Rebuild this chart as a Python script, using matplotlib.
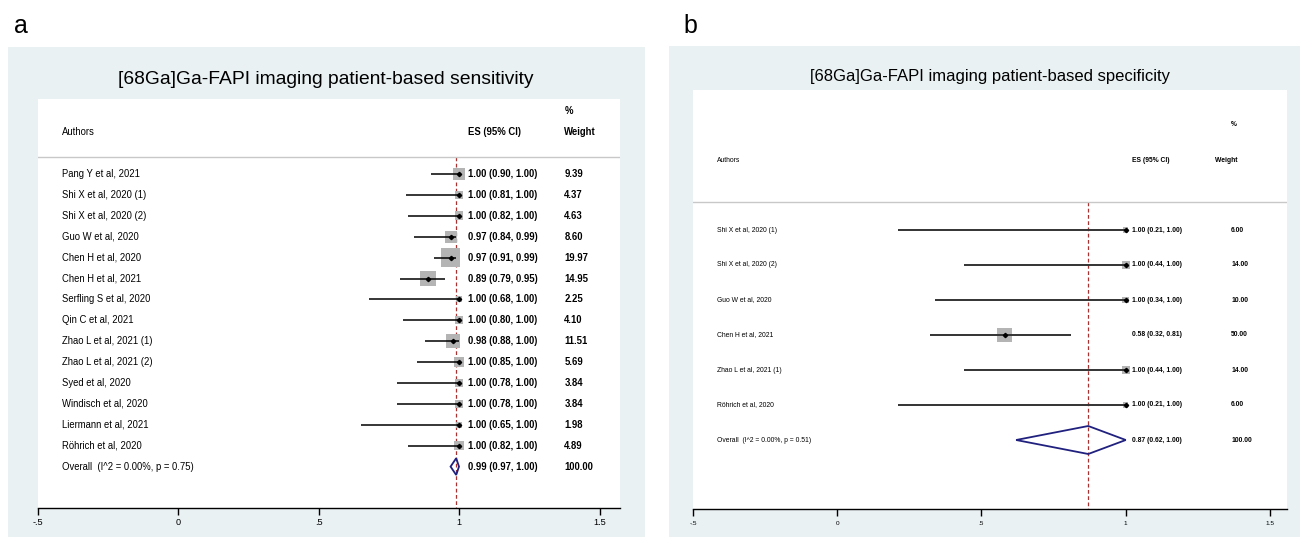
"""Forest plots of [68Ga]Ga-FAPI patient-based sensitivity and specificity."""

import matplotlib

matplotlib.use("Agg")
import matplotlib.pyplot as plt
from matplotlib.patches import Polygon, Rectangle
import numpy as np

plt.rcParams["font.family"] = ["Liberation Sans", "DejaVu Sans"]

# --- panel a: sensitivity -------------------------------------------------
sens_authors = [
    "Pang Y et al, 2021",
    "Shi X et al, 2020 (1)",
    "Shi X et al, 2020 (2)",
    "Guo W et al, 2020",
    "Chen H et al, 2020",
    "Chen H et al, 2021",
    "Serfling S et al, 2020",
    "Qin C et al, 2021",
    "Zhao L et al, 2021 (1)",
    "Zhao L et al, 2021 (2)",
    "Syed et al, 2020",
    "Windisch et al, 2020",
    "Liermann et al, 2021",
    "Röhrich et al, 2020",
]
sens_es = [1.00, 1.00, 1.00, 0.97, 0.97, 0.89, 1.00, 1.00, 0.98, 1.00, 1.00, 1.00, 1.00, 1.00]
sens_lo = [0.90, 0.81, 0.82, 0.84, 0.91, 0.79, 0.68, 0.80, 0.88, 0.85, 0.78, 0.78, 0.65, 0.82]
sens_hi = [1.00, 1.00, 1.00, 0.99, 0.99, 0.95, 1.00, 1.00, 1.00, 1.00, 1.00, 1.00, 1.00, 1.00]
sens_weight = [9.39, 4.37, 4.63, 8.60, 19.97, 14.95, 2.25, 4.10, 11.51, 5.69, 3.84, 3.84, 1.98, 4.89]
sens_overall = (0.99, 0.97, 1.00)
sens_overall_weight = 100.00
sens_het = ("0.00%", "0.75")

# --- panel b: specificity -------------------------------------------------
spec_authors = [
    "Shi X et al, 2020 (1)",
    "Shi X et al, 2020 (2)",
    "Guo W et al, 2020",
    "Chen H et al, 2021",
    "Zhao L et al, 2021 (1)",
    "Röhrich et al, 2020",
]
spec_es = [1.00, 1.00, 1.00, 0.58, 1.00, 1.00]
spec_lo = [0.21, 0.44, 0.34, 0.32, 0.44, 0.21]
spec_hi = [1.00, 1.00, 1.00, 0.81, 1.00, 1.00]
spec_weight = [6.00, 14.00, 10.00, 50.00, 14.00, 6.00]
spec_overall = (0.87, 0.62, 1.00)
spec_overall_weight = 100.00
spec_het = ("0.00%", "0.51")

tick_values = [-0.5, 0, 0.5, 1, 1.5]
tick_labels = ["-.5", "0", ".5", "1", "1.5"]

W, H = 1305, 545
BG = "#e9f1f3"


def px_box(left, top, right, bottom):
    """Pixel box -> figure fraction [l, b, w, h]."""
    return [left / W, 1 - bottom / H, (right - left) / W, (bottom - top) / H]


def draw_forest(
    ax,
    authors,
    es,
    lo,
    hi,
    weights,
    overall,
    overall_weight,
    het,
    px_per_unit,
    row0_px,
    pitch_px,
    top_px,
    bottom_px,
    width_px,
    fs,
    box_scale,
    ci_lw,
    ci_color,
    tick_fs,
    tick_pad,
    x_es,
    x_w,
    x_wlab,
):
    """Draw one Stata-style forest plot into ax (rows are numbered from 0)."""
    ax.set_facecolor("white")
    ax.set_xlim(-0.5, -0.5 + width_px / px_per_unit)
    ax.set_ylim((bottom_px - row0_px) / pitch_px, (top_px - row0_px) / pitch_px)

    n = len(authors)
    rows = np.arange(n)
    x_auth = -0.5 + 24 / px_per_unit

    # header and separator
    ax.text(x_auth, -2, "Authors", fontsize=fs, va="center")
    ax.text(x_es, -2, "ES (95% CI)", fontsize=fs, va="center", fontweight="bold")
    ax.text(x_w, -3, "%", fontsize=fs, va="center", fontweight="bold")
    ax.text(x_wlab, -2, "Weight", fontsize=fs, va="center", fontweight="bold")
    ax.axhline(-0.8, color="#c8c8c8", lw=1.0)

    # reference line at the pooled estimate
    ax.vlines(
        overall[0], -0.8, ax.get_ylim()[0], color="#a83232", lw=0.9,
        linestyle=(0, (3, 2)), zorder=1,
    )

    # weight boxes, CIs and point estimates
    side_pt = box_scale * np.sqrt(np.array(weights)) * 0.72
    ax.scatter(es, rows, s=side_pt ** 2, marker="s", color="#b4b4b4", lw=0, zorder=2)
    ax.hlines(rows, lo, hi, color=ci_color, lw=ci_lw, zorder=3)
    ax.plot(es, rows, "D", color="black", markersize=2.2, zorder=4)

    for i in range(n):
        ax.text(x_auth, i, authors[i], fontsize=fs, va="center")
        ax.text(
            x_es, i, f"{es[i]:.2f} ({lo[i]:.2f}, {hi[i]:.2f})",
            fontsize=fs, va="center", fontweight="bold",
        )
        ax.text(x_w, i, f"{weights[i]:.2f}", fontsize=fs, va="center", fontweight="bold")

    # pooled estimate diamond
    o_es, o_lo, o_hi = overall
    diamond = Polygon(
        [(o_lo, n), (o_es, n - 0.4), (o_hi, n), (o_es, n + 0.4)],
        closed=True, fill=False, edgecolor="#20207f", lw=1.3, zorder=5,
    )
    ax.add_patch(diamond)
    ax.text(
        x_auth, n, f"Overall  (I^2 = {het[0]}, p = {het[1]})", fontsize=fs, va="center"
    )
    ax.text(
        x_es, n, f"{o_es:.2f} ({o_lo:.2f}, {o_hi:.2f})",
        fontsize=fs, va="center", fontweight="bold",
    )
    ax.text(x_w, n, f"{overall_weight:.2f}", fontsize=fs, va="center", fontweight="bold")

    # axis styling
    for side in ["left", "right", "top"]:
        ax.spines[side].set_visible(False)
    ax.spines["bottom"].set_linewidth(1.0)
    ax.set_yticks([])
    ax.set_xticks(tick_values)
    ax.set_xticklabels(tick_labels)
    ax.tick_params(
        axis="x", direction="out", length=5, width=1.0,
        labelsize=tick_fs, pad=tick_pad,
    )


fig = plt.figure(figsize=(W / 100, H / 100), dpi=100)
fig.patch.set_facecolor("white")

# grey-blue panel backgrounds, kept behind the axes
fig.patches.append(
    Rectangle((8 / W, 1 - 537 / H), 637 / W, 490 / H, transform=fig.transFigure,
              facecolor=BG, edgecolor="none", zorder=-10)
)
fig.patches.append(
    Rectangle((669 / W, 1 - 537 / H), 631 / W, 491 / H, transform=fig.transFigure,
              facecolor=BG, edgecolor="none", zorder=-10)
)

ax_a = fig.add_axes(px_box(37.5, 99, 620, 507.5))
draw_forest(
    ax_a, sens_authors, sens_es, sens_lo, sens_hi, sens_weight, sens_overall,
    sens_overall_weight, sens_het,
    px_per_unit=281, row0_px=174, pitch_px=20.9, top_px=99, bottom_px=507.5,
    width_px=582.5, fs=6.85, box_scale=4.1, ci_lw=1.1, ci_color="black",
    tick_fs=6.6, tick_pad=2.5, x_es=1.032, x_w=1.375, x_wlab=1.375,
)

ax_b = fig.add_axes(px_box(693, 90, 1287, 509))
draw_forest(
    ax_b, spec_authors, spec_es, spec_lo, spec_hi, spec_weight, spec_overall,
    spec_overall_weight, spec_het,
    px_per_unit=288.5, row0_px=230, pitch_px=35, top_px=90, bottom_px=509,
    width_px=594, fs=4.85, box_scale=2.1, ci_lw=1.4, ci_color="#333333",
    tick_fs=4.6, tick_pad=3.5, x_es=1.022, x_w=1.365, x_wlab=1.31,
)

# titles and panel letters
fig.text(326 / W, 1 - 79 / H, "[68Ga]Ga-FAPI imaging patient-based sensitivity",
         fontsize=13.9, ha="center", va="center")
fig.text(990 / W, 1 - 77 / H, "[68Ga]Ga-FAPI imaging patient-based specificity",
         fontsize=12.0, ha="center", va="center")
fig.text(14 / W, 1 - 33 / H, "a", fontsize=18, ha="left", va="baseline")
fig.text(683 / W, 1 - 33 / H, "b", fontsize=18, ha="left", va="baseline")

fig.savefig("out.png", dpi=100, facecolor="white")
